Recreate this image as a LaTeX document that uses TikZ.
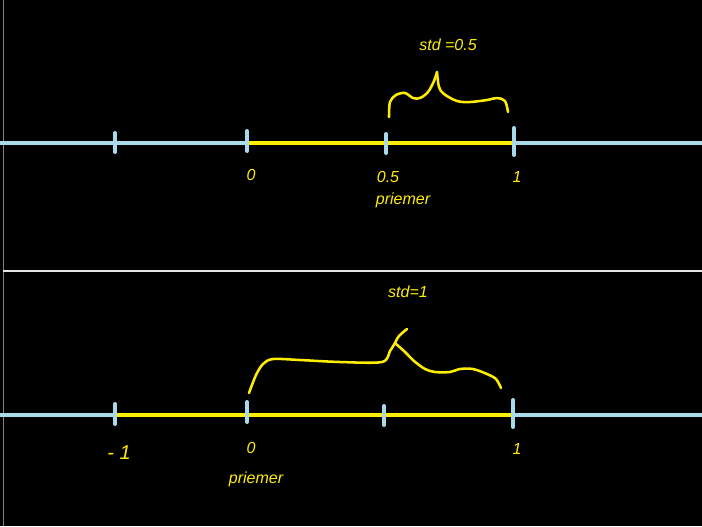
\documentclass[tikz,border=0pt]{standalone}
\usepackage{fontspec}
\setmainfont{Liberation Sans}
\definecolor{axisblue}{RGB}{168,218,234}
\definecolor{penyellow}{RGB}{255,238,0}

\begin{document}
\begin{tikzpicture}[x=0.75pt, y=-0.75pt,
    axis/.style={axisblue, line width=3pt},
    tick/.style={axisblue, line width=3pt, line cap=round},
    span/.style={penyellow, line width=3.6pt},
    pen/.style={penyellow, line width=1.9pt, line cap=round, line join=round},
    lbl/.style={text=penyellow, font=\itshape\fontsize{12}{14}\selectfont, inner sep=0pt}]

  % background and frame
  \fill[black] (0,0) rectangle (702,526);
  \useasboundingbox (0,0) rectangle (702,526);
  \draw[gray, line width=1.2pt] (3.5,0) -- (3.5,526);
  \draw[white!90!black, line width=1.4pt] (3,271) -- (702,271);

  % ---- top panel: std = 0.5
  \coordinate (aL) at (0,143);
  \coordinate (aR) at (702,143);
  \coordinate (m1) at (115,143);
  \coordinate (z1) at (247,143);
  \coordinate (h1) at (386,143);
  \coordinate (o1) at (514,143);
  \draw[axis] (aL) -- (aR);
  \draw[span] (z1) -- (o1);
  \foreach \p/\a/\b in {m1/-9/10, z1/-8/12, h1/-10/9, o1/-12/15}
    \draw[tick] ([yshift=\a*0.75pt]\p) -- ([yshift=\b*0.75pt]\p);

  \node[lbl] (zero1) at (251,175) {0};
  \node[lbl] (half1) at (388,177) {0.5};
  \node[lbl] (one1)  at (517,177) {1};
  \node[lbl] (mean1) at (403,200) {priemer};
  \node[lbl] (std1)  at (448,45)  {std =0.5};

  \draw[pen] plot[smooth, tension=0.55] coordinates {
      (389,117) (390,102) (396,95) (405,93) (413,98) (420,98)
      (428,92) (434,81) (437,72)};
  \draw[pen] plot[smooth, tension=0.55] coordinates {
      (437,72) (439,87) (444,94) (457,101) (470,102) (487,100)
      (497,98) (505,101) (508,112)};

  % ---- bottom panel: std = 1
  \coordinate (bL) at (0,415);
  \coordinate (bR) at (702,415);
  \coordinate (m2) at (115,415);
  \coordinate (z2) at (247,415);
  \coordinate (h2) at (384,415);
  \coordinate (o2) at (513,415);
  \draw[axis] (bL) -- (bR);
  \draw[span] (m2) -- (o2);
  \foreach \p/\a/\b in {m2/-9/11, z2/-7/13, h2/-10/9, o2/-12/15}
    \draw[tick] ([yshift=\a*0.75pt]\p) -- ([yshift=\b*0.75pt]\p);

  \node[lbl, font=\itshape\fontsize{15}{16}\selectfont] (mone2) at (119,453) {- 1};
  \node[lbl] (zero2) at (251,448) {0};
  \node[lbl] (one2)  at (517,449) {1};
  \node[lbl] (mean2) at (256,479) {priemer};
  \node[lbl] (std2)  at (408,292) {std=1};

  \draw[pen] plot[smooth, tension=0.5] coordinates {
      (249,393) (256,375) (263,364) (273,359) (300,360) (340,362)
      (382,362) (390,351) (395,343)};
  \draw[pen] plot[smooth, tension=0.5] coordinates {
      (395,343) (399,336) (407,329)};
  \draw[pen] plot[smooth, tension=0.5] coordinates {
      (395,343) (405,352) (414,361) (425,369) (435,372) (450,372)
      (460,369) (473,369) (487,374) (496,379) (501,388)};
\end{tikzpicture}
\end{document}
